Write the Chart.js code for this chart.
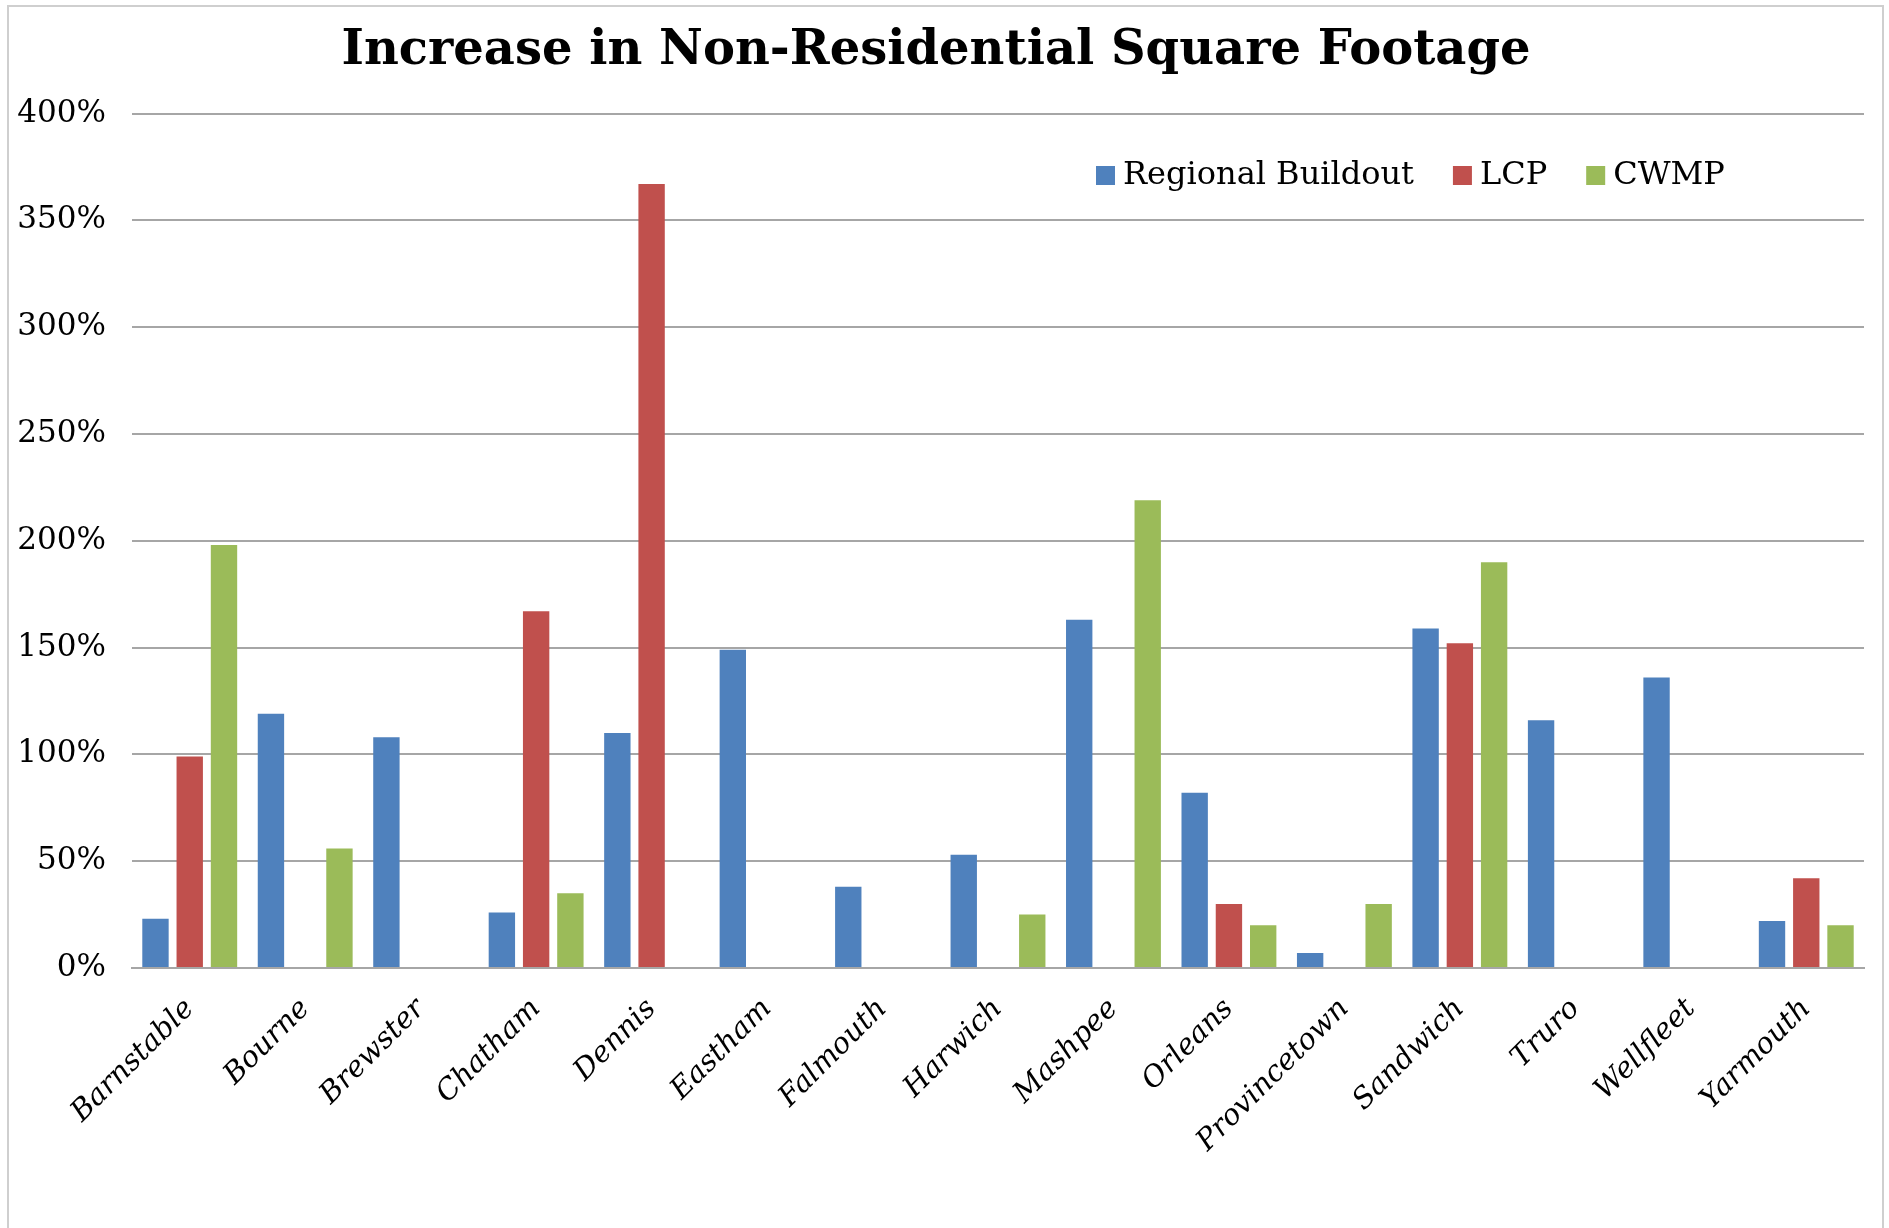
<!DOCTYPE html>
<html>
<head>
<meta charset="utf-8">
<title>Increase in Non-Residential Square Footage</title>
<script src="https://cdn.jsdelivr.net/npm/chart.js@4.4.1/dist/chart.umd.min.js"></script>
<style>
  html, body { margin: 0; padding: 0; background: #fff; overflow: hidden; }
  #wrap { position: relative; width: 1889px; height: 1228px; }
  #frame { position: absolute; left: 7px; top: 5px; width: 1873px; height: 1260px; border: 2px solid #cfcfcf; }
  #chart-box { position: absolute; left: 0; top: 0; width: 1889px; height: 1228px; }
</style>
</head>
<body>
<div id="wrap">
  <div id="frame"></div>
  <div id="chart-box"><canvas id="chart-sqft"></canvas></div>
</div>
<script>
const towns = ['Barnstable', 'Bourne', 'Brewster', 'Chatham', 'Dennis', 'Eastham', 'Falmouth', 'Harwich',
  'Mashpee', 'Orleans', 'Provincetown', 'Sandwich', 'Truro', 'Wellfleet', 'Yarmouth'];
// percent increase, null = no bar
const regionalBuildout = [23, 119, 108, 26, 110, 149, 38, 53, 163, 82, 7, 159, 116, 136, 22];
const lcp = [99, null, null, 167, 367, null, null, null, null, 30, null, 152, null, null, 42];
const cwmp = [198, 56, null, 35, null, null, null, 25, 219, 20, 30, 190, null, null, 20];
const yTicks = [0, 50, 100, 150, 200, 250, 300, 350, 400];

const serif = '"DejaVu Serif", serif';

// legend drawn inside the plot, top right
const insideLegend = {
  id: 'insideLegend',
  afterDraw(chart) {
    const ctx = chart.ctx;
    let x = 1096;
    const y = 175;
    ctx.save();
    ctx.font = '32px ' + serif;
    ctx.textBaseline = 'middle';
    chart.data.datasets.forEach(ds => {
      ctx.fillStyle = ds.backgroundColor;
      ctx.fillRect(x, y - 9, 19, 19);
      x += 27;
      ctx.fillStyle = '#000';
      ctx.fillText(ds.label, x, y + 1);
      x += ctx.measureText(ds.label).width + 39;
    });
    ctx.restore();
  }
};

const ctxSqft = document.getElementById('chart-sqft');

new Chart(ctxSqft, {
  type: 'bar',
  data: {
    labels: towns,
    datasets: [
      { label: 'Regional Buildout', data: regionalBuildout, backgroundColor: '#4F81BD' },
      { label: 'LCP', data: lcp, backgroundColor: '#C0504D' },
      { label: 'CWMP', data: cwmp, backgroundColor: '#9BBB59' },
    ],
  },
  options: {
    responsive: true,
    maintainAspectRatio: false,
    animation: false,
    categoryPercentage: 0.89,
    barPercentage: 0.77,
    layout: {
      padding: { left: 8, right: 25, top: 0, bottom: 0 },
    },
    plugins: {
      legend: { display: false },
      tooltip: { enabled: false },
      title: {
        display: true,
        text: 'Increase in Non-Residential Square Footage',
        color: '#000',
        font: { family: serif, size: 48, weight: 'bold' },
        padding: { top: 23, bottom: 33 },
      },
    },
    scales: {
      x: {
        grid: { display: false },
        border: { display: true, color: '#a6a6a6', width: 2 },
        ticks: {
          color: '#000',
          font: { family: serif, size: 29, style: 'italic' },
          maxRotation: 45,
          minRotation: 45,
          autoSkip: false,
          padding: 16,
        },
        afterFit(scale) {
          scale.height = 260;
        },
      },
      y: {
        min: 0,
        max: 400,
        border: { display: false },
        grid: { color: '#a6a6a6', lineWidth: 2, drawTicks: false },
        ticks: {
          color: '#000',
          font: { family: serif, size: 31 },
          padding: 26,
          callback: v => v + '%',
        },
        afterBuildTicks(scale) {
          scale.ticks = yTicks.map(v => ({ value: v }));
        },
        afterFit(scale) {
          scale.width = 124;
        },
      },
    },
  },
  plugins: [insideLegend],
});
</script>
</body>
</html>
